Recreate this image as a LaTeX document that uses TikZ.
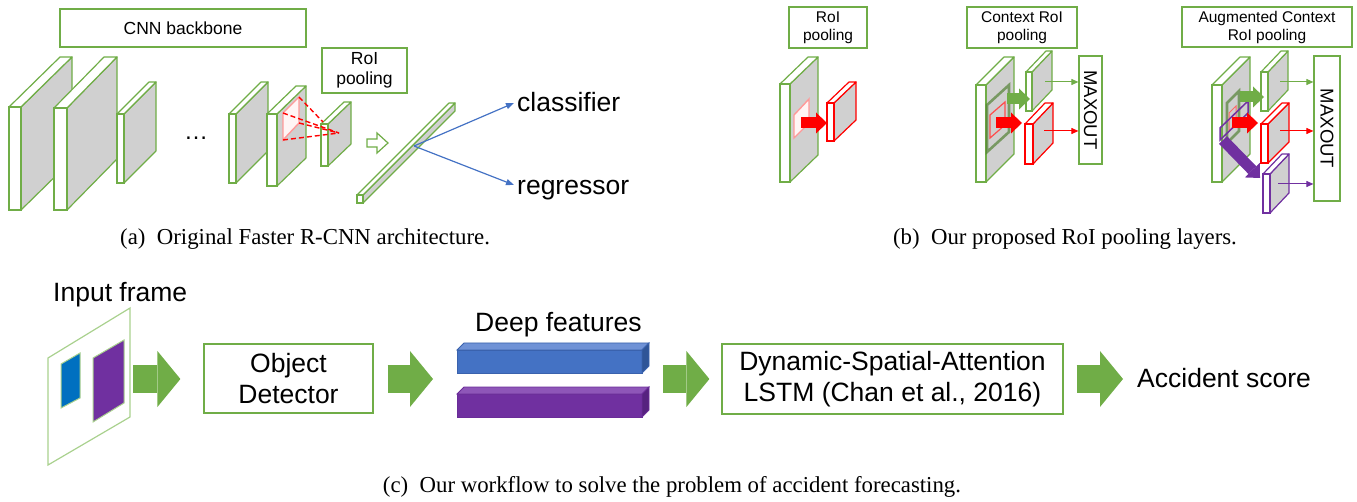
\documentclass[tikz,border=0pt]{standalone}
\usepackage{fontspec}
\setmainfont{Liberation Serif}
\setsansfont{Liberation Sans}
\usetikzlibrary{arrows.meta}

\definecolor{pptgreen}{HTML}{70AD47}
\definecolor{ctxgreen}{HTML}{548235}
\definecolor{lightgreen}{HTML}{A9D18E}
\definecolor{slabgray}{HTML}{D0D0D0}
\definecolor{pptpurple}{HTML}{7030A0}
\definecolor{pptblue}{HTML}{4472C4}
\definecolor{boxblue}{HTML}{0070C0}
\definecolor{bluetop}{HTML}{6F92D6}
\definecolor{blueside}{HTML}{2F5597}
\definecolor{blueedge}{HTML}{3A62AD}
\definecolor{purpletop}{HTML}{8E56B8}
\definecolor{purpleside}{HTML}{56227F}
\definecolor{purpleedge}{HTML}{6A2C98}

% feature-map slab: x y (front top-left), w h (front face), dx dy (depth), edge colour
\newcommand{\slab}[7]{%
  \filldraw[fill=slabgray, draw=#7, line width=1.2pt, line join=round]
    (#1+#3,#2) -- (#1+#3+#5,#2+#6) -- (#1+#3+#5,#2+#4+#6) -- (#1+#3,#2+#4) -- cycle;
  \filldraw[fill=white, draw=#7, line width=1.2pt, line join=round]
    (#1,#2) -- (#1+#5,#2+#6) -- (#1+#3+#5,#2+#6) -- (#1+#3,#2) -- cycle;
  \filldraw[fill=white, draw=#7, line width=1.2pt]
    (#1,#2) rectangle (#1+#3,#2+#4);
}
% feature bar: x y w h depth, front/top/side/edge colours
\newcommand{\featbar}[9]{%
  \filldraw[fill=#6, draw=#9, line width=0.8pt] (#1,#2) rectangle (#1+#3,#2+#4);
  \filldraw[fill=#7, draw=#9, line width=0.8pt]
    (#1,#2) -- (#1+#5,#2-#5) -- (#1+#3+#5,#2-#5) -- (#1+#3,#2) -- cycle;
  \filldraw[fill=#8, draw=#9, line width=0.8pt]
    (#1+#3,#2) -- (#1+#3+#5,#2-#5) -- (#1+#3+#5,#2+#4-#5) -- (#1+#3,#2+#4) -- cycle;
}

\tikzset{
  greenbox/.style={draw=pptgreen, line width=1.2pt, fill=white, inner sep=0pt, align=center},
  labA/.style={font=\sffamily\fontsize{17.5}{20}\selectfont},
  labB/.style={font=\sffamily\fontsize{15.5}{18}\selectfont},
  labC/.style={font=\sffamily\fontsize{26.5}{31}\selectfont, inner sep=0pt},
  maxout/.style={font=\sffamily\fontsize{18.5}{20}\selectfont},
  capfont/.style={font=\fontsize{22.8}{26}\selectfont, inner sep=0pt},
  bigarrow/.style={draw=pptgreen, line width=28pt, -{Triangle[length=23pt, width=56pt, line width=0pt]}},
  smallfat/.style={line width=11pt, -{Triangle[length=11pt, width=21pt, line width=0pt]}},
  thinarrow/.style={line width=1pt, -{Triangle[length=7pt, width=6pt]}},
  blueline/.style={draw=pptblue, line width=1.2pt, -{Triangle[length=8pt, width=6pt]}},
  roidash/.style={draw=red, line width=1.4pt, dash pattern=on 5pt off 3pt},
  roiface/.style={draw=red!40, fill=red!4, line width=1.4pt},
  ctxface/.style={draw=ctxgreen, draw opacity=0.7, line width=2.6pt},
}

\begin{document}
\begin{tikzpicture}[x=1pt, y=-1pt]
\useasboundingbox (0,0) rectangle (1357,502);

% ---------------- (a) Faster R-CNN ----------------
\node[greenbox, labA, minimum width=246, minimum height=38] (bb) at (183,28) {CNN backbone};

\slab{9}{107}{12}{103}{51}{-50}{pptgreen}
\slab{54}{108}{13}{102}{50}{-51}{pptgreen}
\slab{117}{114}{7}{69}{32}{-32}{pptgreen}
\node[font=\sffamily\fontsize{24}{24}\selectfont, inner sep=0pt, anchor=base] (dots) at (196,140) {…};
\slab{229}{114}{7}{69}{32}{-32}{pptgreen}
\slab{267}{114}{10}{72}{29}{-28}{pptgreen}
\draw[roiface] (283,113) -- (299,97) -- (299,123) -- (283,140) -- cycle;
\slab{321}{124}{7}{42}{23}{-22}{pptgreen}
\coordinate (pool) at (339,133);
\draw[roidash] (299,97) -- (323,122);
\draw[roidash] (283,113) -- (pool);
\draw[roidash] (299,123) -- (pool);
\draw[roidash] (283,140) -- (pool);

\node[greenbox, labA, minimum width=85, minimum height=45] (rpa) at (364.5,70.5) {RoI\\pooling};

% hollow arrow into the fully connected layer
\filldraw[draw=pptgreen, fill=white, line width=1.2pt, line join=miter]
  (367,139) -- (377,139) -- (377,133) -- (388,143) -- (377,153) -- (377,147) -- (367,147) -- cycle;

\slab{357}{195}{6}{8}{92}{-92}{pptgreen}
\coordinate (fc) at (414,146);
\node[labC, anchor=base west] (cls) at (517,112) {classifier};
\node[labC, anchor=base west] (reg) at (517,195) {regressor};
\coordinate (clstip) at (514,103);
\coordinate (regtip) at (514,185);
\draw[blueline] (fc) -- (clstip);
\draw[blueline] (fc) -- (regtip);

\node[capfont, anchor=west] (capa) at (120,239) {(a)\enspace Original Faster R-CNN architecture.};

% ---------------- (b) proposed RoI pooling layers ----------------
% plain RoI pooling
\node[greenbox, labB, minimum width=78, minimum height=41] (rpb1) at (828,27.5) {RoI\\pooling};
\slab{780}{84}{10}{98}{28}{-27}{pptgreen}
\draw[roiface] (794,115) -- (809,99) -- (809,123) -- (794,138) -- cycle;
\slab{827}{103}{7}{38}{22}{-21}{red}
\draw[smallfat, red] (801,123) -- (827,123);

% context RoI pooling
\node[greenbox, labB, minimum width=110, minimum height=41] (rpb2) at (1022,27.5) {Context RoI\\pooling};
\node[greenbox, maxout, minimum width=23, minimum height=108] (mx1) at (1090.5,110) {};
\node[maxout, rotate=-90] at (mx1.center) {MAXOUT};
\slab{976}{85}{10}{97}{28}{-28}{pptgreen}
\draw[ctxface] (987,105) -- (1009,85) -- (1009,132) -- (987,152) -- cycle;
\draw[draw=red!70, line width=1.2pt] (990,115) -- (1005,102) -- (1005,125) -- (990,138) -- cycle;
\slab{1026}{72}{6}{39}{20}{-21}{pptgreen}
\slab{1025}{124}{8}{40}{20}{-21}{red}
\draw[smallfat, pptgreen] (1007,99) -- (1030,99);
\draw[smallfat, red] (996,123) -- (1022,123);
\coordinate (g2) at (1045,82);
\coordinate (r2) at (1044,131);
\draw[thinarrow, pptgreen] (g2) -- (g2 -| mx1.west);
\draw[thinarrow, red] (r2) -- (r2 -| mx1.west);

% augmented context RoI pooling
\node[greenbox, labB, minimum width=170, minimum height=40] (rpb3) at (1267,27) {Augmented Context\\RoI pooling};
\node[greenbox, maxout, minimum width=26, minimum height=145] (mx2) at (1327,128.5) {};
\node[maxout, rotate=-90] at (mx2.center) {MAXOUT};
\slab{1212}{85}{10}{97}{28}{-28}{pptgreen}
\draw[ctxface] (1227,103) -- (1239,91) -- (1239,131) -- (1227,143) -- cycle;
\draw[draw=red!60, line width=1pt] (1229,113) -- (1236,106) -- (1236,124) -- (1229,131) -- cycle;
\draw[draw=pptpurple, line width=1.5pt] (1220,128) -- (1248,101) -- (1248,113) -- (1220,140) -- cycle;
\slab{1261}{72}{7}{39}{20}{-21}{pptgreen}
\slab{1261}{124}{7}{39}{21}{-21}{red}
\slab{1263}{174}{7}{39}{19}{-20}{pptpurple}
\draw[smallfat, pptgreen] (1240,97) -- (1264,97);
\draw[smallfat, red] (1232,123) -- (1258,123);
\draw[smallfat, pptpurple] (1223,140) -- (1260,178);
\coordinate (g3) at (1280,82);
\coordinate (r3) at (1280,131);
\coordinate (p3) at (1278,184);
\draw[thinarrow, pptgreen] (g3) -- (g3 -| mx2.west);
\draw[thinarrow, red] (r3) -- (r3 -| mx2.west);
\draw[thinarrow, pptpurple] (p3) -- (p3 -| mx2.west);

\node[capfont] (capb) at (1065,239) {(b)\enspace Our proposed RoI pooling layers.};

% ---------------- (c) workflow ----------------
\node[labC, anchor=base west] (inlab) at (53,302) {Input frame};
\draw[draw=lightgreen, line width=1.2pt] (48,358) -- (130,308) -- (130,417) -- (48,465) -- cycle;
\filldraw[fill=boxblue, draw=lightgreen, line width=1pt] (61,364) -- (80,353) -- (80,398) -- (61,408) -- cycle;
\filldraw[fill=pptpurple, draw=lightgreen, line width=1pt] (93,358) -- (124,340) -- (124,403) -- (93,422) -- cycle;
\coordinate (frameR) at (131,379);

\node[greenbox, labC, minimum width=169, minimum height=69] (det) at (288.5,378.5) {Object\\Detector};

\node[labC, anchor=base west] (featlab) at (475,332) {Deep features};
\featbar{457}{350}{185}{23}{7}{pptblue}{bluetop}{blueside}{blueedge}
\featbar{457}{394}{185}{23}{7}{pptpurple}{purpletop}{purpleside}{purpleedge}
\coordinate (featL) at (455,379);
\coordinate (featR) at (652,379);

\node[greenbox, labC, minimum width=341, minimum height=70] (dsa) at (892.5,379) {Dynamic-Spatial-Attention\\LSTM (Chan et al., 2016)};

\node[labC, anchor=base west] (score) at (1137,388) {Accident score};

\draw[bigarrow] ([xshift=2]frameR) -- ([xshift=-23]det.west |- frameR);
\draw[bigarrow] ([xshift=14]det.east |- frameR) -- ([xshift=-22]featL);
\draw[bigarrow] ([xshift=11]featR) -- ([xshift=-12]dsa.west |- featR);
\draw[bigarrow] ([xshift=13]dsa.east |- featR) -- ([xshift=-14]score.west |- featR);

\node[capfont] (capc) at (672,487) {(c)\enspace Our workflow to solve the problem of accident forecasting.};
\end{tikzpicture}
\end{document}
